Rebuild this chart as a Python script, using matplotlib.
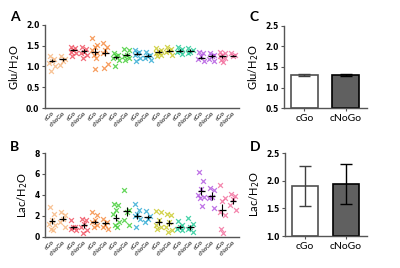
import matplotlib
matplotlib.use('Agg')
import matplotlib.pyplot as plt
import numpy as np

plt.rcParams['font.family'] = ['Lato', 'DejaVu Sans']

groups = ['cGo', 'cNoGo'] * 9
colors = ['#f7b57c', '#f04a5c', '#f5873a', '#3fcc32', '#2ba8d2',
          '#c8c823', '#1cc893', '#b052e0', '#f26a9a']

# panel A: Glu/H2O per group
glu_pts = [
    [1.24, 1.18, 1.12, 1.08, 1.0, 0.9],
    [1.24, 1.18, 1.12, 1.04],
    [1.48, 1.44, 1.4, 1.36, 1.32, 1.26],
    [1.48, 1.42, 1.36, 1.32, 1.28, 1.2],
    [1.68, 1.52, 1.48, 1.4, 1.32, 1.28, 1.2, 0.94],
    [1.56, 1.48, 1.4, 1.32, 1.06, 0.96],
    [1.32, 1.28, 1.24, 1.2, 1.16, 1.02],
    [1.42, 1.4, 1.28, 1.24, 1.2, 1.16],
    [1.4, 1.36, 1.32, 1.28, 1.2, 1.12],
    [1.36, 1.28, 1.24, 1.2, 1.16],
    [1.44, 1.4, 1.36, 1.32, 1.28, 1.24],
    [1.46, 1.42, 1.38, 1.34, 1.28],
    [1.46, 1.42, 1.38, 1.34, 1.3],
    [1.44, 1.4, 1.36, 1.32],
    [1.36, 1.32, 1.24, 1.18, 1.12],
    [1.32, 1.28, 1.24, 1.18, 1.14],
    [1.36, 1.32, 1.28, 1.24, 1.2, 1.16, 1.1],
    [1.32, 1.28, 1.24],
]
glu_mean = [1.14, 1.17, 1.40, 1.37, 1.36, 1.33, 1.22, 1.28, 1.31,
            1.26, 1.36, 1.38, 1.38, 1.38, 1.21, 1.25, 1.24, 1.26]
glu_sem = [0.04, 0.04, 0.03, 0.04, 0.08, 0.08, 0.04, 0.04, 0.04,
           0.04, 0.03, 0.03, 0.03, 0.03, 0.04, 0.04, 0.04, 0.02]

# panel B: Lac/H2O per group
lac_pts = [
    [2.86, 2.2, 1.6, 1.27, 1.1, 0.8, 0.63],
    [2.4, 2.06, 1.75, 1.43, 0.95],
    [1.6, 0.95, 0.9, 0.8, 0.7],
    [1.75, 1.65, 1.27, 0.95, 0.63, 0.38],
    [2.4, 2.06, 1.6, 1.43, 1.1, 0.95],
    [1.75, 1.43, 1.1, 0.95, 0.8],
    [3.1, 3.0, 2.6, 2.2, 1.43, 1.17, 0.9],
    [4.5, 2.6, 2.4, 1.6, 1.1],
    [3.17, 2.54, 2.2, 1.97, 1.75, 0.9],
    [2.48, 1.97, 1.75, 1.43],
    [2.48, 2.4, 1.6, 1.1, 0.9, 0.8],
    [2.2, 2.06, 1.43, 0.95, 0.63, 0.48],
    [1.5, 1.1, 0.9, 0.8, 0.7],
    [1.84, 1.2, 0.9, 0.73, 0.48],
    [6.2, 5.3, 4.6, 4.0, 3.8, 3.7, 2.95],
    [4.7, 4.5, 3.8, 3.7, 2.8],
    [4.95, 3.7, 3.45, 2.4, 2.1, 0.8, 0.35],
    [4.05, 3.9, 3.6, 3.05, 2.55],
]
lac_mean = [1.5, 1.75, 0.9, 1.1, 1.4, 1.35, 1.85, 2.45, 2.0,
            1.9, 1.4, 1.3, 0.95, 0.9, 4.38, 3.9, 2.57, 3.43]
lac_sem = [0.3, 0.25, 0.12, 0.25, 0.2, 0.18, 0.35, 0.45, 0.3,
           0.2, 0.3, 0.3, 0.15, 0.25, 0.4, 0.35, 0.6, 0.3]

bar_labels = ['cGo', 'cNoGo']
glu_bar = [1.30, 1.30]
glu_bar_err = [0.03, 0.03]
lac_bar = [1.90, 1.94]
lac_bar_err = [0.36, 0.355]

spine_c = '#555555'
# fixed horizontal spread pattern for the points inside a group
spread = [-0.2, 0.2, 0.0, -0.25, 0.25, -0.1, 0.1, 0.05]


def style(ax):
    for s in ['top', 'right']:
        ax.spines[s].set_visible(False)
    for s in ['left', 'bottom']:
        ax.spines[s].set_color(spine_c)
        ax.spines[s].set_linewidth(1.0)
    ax.tick_params(axis='both', color=spine_c, width=0.8, length=2.5, pad=1.5)
    for t in ax.get_yticklabels():
        t.set_fontsize(5.5)
        t.set_fontweight('bold')
        t.set_family('DejaVu Sans')


def scatter_panel(ax, pts, mean, sem, ylim, yticks, ylabel, fmt):
    for i, p in enumerate(pts):
        c = colors[i // 2]
        xs = [i + spread[k % len(spread)] for k in range(len(p))]
        ax.scatter(xs, p, marker='x', s=12, color=c, alpha=0.8,
                   linewidths=0.9, zorder=2)
        ax.hlines(mean[i], i - 0.32, i + 0.32, color='black', lw=0.9, zorder=3)
        ax.errorbar(i, mean[i], yerr=sem[i], color='black', lw=0.8,
                    capsize=0, zorder=3)
    ax.set_xlim(-0.66, 17.56)
    ax.set_ylim(*ylim)
    ax.set_yticks(yticks)
    ax.set_yticklabels([fmt.format(v) for v in yticks])
    ax.set_xticks(range(len(groups)))
    ax.set_xticklabels(groups, rotation=45, ha='right', fontsize=4.5,
                       rotation_mode='anchor')
    ax.set_ylabel(ylabel, fontsize=8, labelpad=3)
    style(ax)
    ax.tick_params(axis='x', length=0, pad=2)


def bar_panel(ax, vals, errs, ylim, yticks, ylabel):
    x = np.arange(len(vals))
    ax.bar(x, [v - ylim[0] for v in vals], bottom=ylim[0], width=0.65,
           color=['white', '#606060'], edgecolor=['#505050', 'black'],
           linewidth=1.2, zorder=2)
    for xi, v, e, c in zip(x, vals, errs, ['#404040', 'black']):
        ax.errorbar(xi, v, yerr=e, fmt='none', ecolor=c,
                    elinewidth=1.0, capsize=4, capthick=1.0, zorder=3)
    ax.set_xlim(-0.49, 1.51)
    ax.set_ylim(*ylim)
    ax.set_yticks(yticks)
    ax.set_yticklabels(['{:.1f}'.format(v) for v in yticks])
    ax.set_xticks(x)
    ax.set_xticklabels(bar_labels, fontsize=7.5)
    ax.set_ylabel(ylabel, fontsize=8, labelpad=3)
    style(ax)


fig = plt.figure(figsize=(4, 2.68), dpi=100)
axA = fig.add_axes([0.1125, 0.597, 0.485, 0.310])
axB = fig.add_axes([0.1125, 0.116, 0.485, 0.313])
axC = fig.add_axes([0.71, 0.597, 0.2075, 0.306])
axD = fig.add_axes([0.7125, 0.119, 0.205, 0.310])

scatter_panel(axA, glu_pts, glu_mean, glu_sem, (0, 2.0),
              [0, 0.5, 1.0, 1.5, 2.0], 'Glu/H$_2$O', '{:.1f}')
scatter_panel(axB, lac_pts, lac_mean, lac_sem, (0, 8),
              [0, 2, 4, 6, 8], 'Lac/H$_2$O', '{:.0f}')
bar_panel(axC, glu_bar, glu_bar_err, (0.5, 2.5),
          [0.5, 1.0, 1.5, 2.0, 2.5], 'Glu/H$_2$O')
bar_panel(axD, lac_bar, lac_bar_err, (1.0, 2.5),
          [1.0, 1.5, 2.0, 2.5], 'Lac/H$_2$O')

for lab, x, y in [('A', 0.025, 0.935), ('B', 0.025, 0.45),
                  ('C', 0.625, 0.935), ('D', 0.625, 0.45)]:
    fig.text(x, y, lab, fontsize=10, fontweight='bold', va='center')

fig.savefig('out.png', dpi=100)
